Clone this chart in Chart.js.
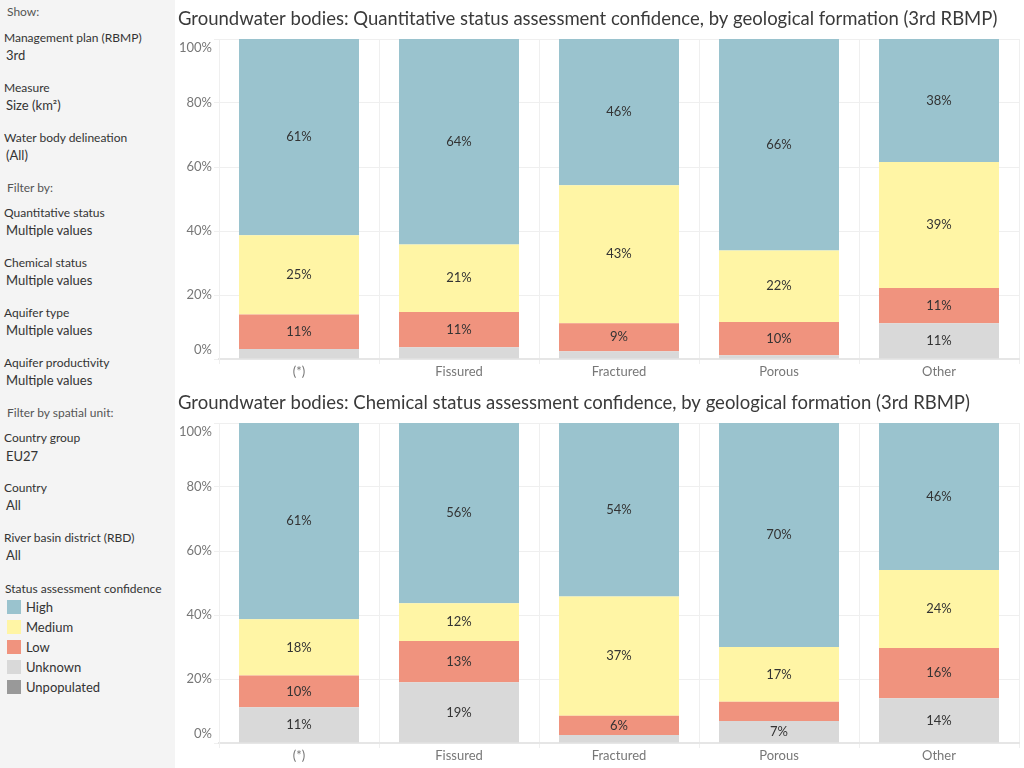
<!DOCTYPE html>
<html>
<head>
<meta charset="utf-8">
<script src="https://cdn.jsdelivr.net/npm/chart.js@4.4.1/dist/chart.umd.min.js"></script>
<style>
  body { margin: 0; width: 1024px; height: 768px; overflow: hidden; background: #fff; font-family: Lato, sans-serif; position: relative; }
  #sidebar { position: absolute; left: 0; top: 0; width: 175px; height: 768px; background: #f4f4f4; }
  .t { position: absolute; font-size: 12px; line-height: 16px; color: #333; white-space: nowrap; }
  .v { font-size: 13px; }
  .h { color: #555; }
  .sw { position: absolute; left: 7px; width: 14px; height: 14px; }
  canvas { position: absolute; left: 175px; }
</style>
</head>
<body>
<div id="sidebar">
  <div class="t h" style="left:7px;top:4px">Show:</div>
  <div class="t" style="left:4px;top:30px">Management plan (RBMP)</div>
  <div class="t v" style="left:6px;top:47px">3rd</div>
  <div class="t" style="left:4px;top:80px">Measure</div>
  <div class="t v" style="left:6px;top:97px">Size (km²)</div>
  <div class="t" style="left:4px;top:130px">Water body delineation</div>
  <div class="t v" style="left:6px;top:147px">(All)</div>
  <div class="t h" style="left:7px;top:180px">Filter by:</div>
  <div class="t" style="left:4px;top:205px">Quantitative status</div>
  <div class="t v" style="left:6px;top:222px">Multiple values</div>
  <div class="t" style="left:4px;top:255px">Chemical status</div>
  <div class="t v" style="left:6px;top:272px">Multiple values</div>
  <div class="t" style="left:4px;top:305px">Aquifer type</div>
  <div class="t v" style="left:6px;top:322px">Multiple values</div>
  <div class="t" style="left:4px;top:355px">Aquifer productivity</div>
  <div class="t v" style="left:6px;top:372px">Multiple values</div>
  <div class="t h" style="left:7px;top:405px">Filter by spatial unit:</div>
  <div class="t" style="left:4px;top:430px">Country group</div>
  <div class="t v" style="left:6px;top:448px">EU27</div>
  <div class="t" style="left:4px;top:480px">Country</div>
  <div class="t v" style="left:6px;top:497px">All</div>
  <div class="t" style="left:4px;top:530px">River basin district (RBD)</div>
  <div class="t v" style="left:6px;top:547px">All</div>
  <div class="t" style="left:5px;top:581px">Status assessment confidence</div>
  <div id="legend"></div>
</div>
<canvas id="quantChart" width="849" height="384" style="top:0"></canvas>
<canvas id="chemChart" width="849" height="384" style="top:384px"></canvas>
<script>
const categories = ['(*)', 'Fissured', 'Fractured', 'Porous', 'Other'];
const seriesNames = ['Unknown', 'Low', 'Medium', 'High'];
const seriesColors = ['#d9d9d9', '#f0937e', '#fff5a5', '#9ac3ce'];
const yTicks = [0, 20, 40, 60, 80, 100];

const legendNames = ['High', 'Medium', 'Low', 'Unknown', 'Unpopulated'];
const legendColors = ['#9ac3ce', '#fff5a5', '#f0937e', '#d9d9d9', '#999999'];

// Quantitative status (% of size km²)
const quantUnknown = [3.1, 3.7, 2.4, 1.2, 11.2];
const quantLow     = [10.8, 11.0, 8.8, 10.4, 11.0];
const quantMedium  = [24.8, 21.1, 43.1, 22.3, 39.4];
const quantHigh    = [61.3, 64.2, 45.7, 66.1, 38.4];
const quantHidden  = ['Unknown|(*)', 'Unknown|Fissured', 'Unknown|Fractured', 'Unknown|Porous'];

// Chemical status (% of size km²)
const chemUnknown = [11.2, 19.0, 2.5, 6.9, 14.0];
const chemLow     = [9.9, 12.9, 6.0, 6.0, 15.7];
const chemMedium  = [17.6, 11.8, 37.3, 17.1, 24.4];
const chemHigh    = [61.3, 56.3, 54.2, 70.0, 45.9];
const chemHidden  = ['Unknown|Fractured', 'Low|Porous'];

// legend in the sidebar
const legend = document.getElementById('legend');
legendNames.forEach((name, i) => {
  const top = 600 + i * 20;
  legend.innerHTML += `<div class="sw" style="top:${top}px;background:${legendColors[i]}"></div>` +
    `<div class="t v" style="left:26px;top:${top - 1}px">${name}</div>`;
});

// percent labels in the middle of each segment
const segmentLabels = {
  id: 'segmentLabels',
  afterDatasetsDraw(chart) {
    const ctx = chart.ctx;
    const hidden = chart.options.plugins.segmentLabels.hidden;
    ctx.save();
    ctx.font = '13px Lato';
    ctx.fillStyle = '#333';
    ctx.textAlign = 'center';
    ctx.textBaseline = 'middle';
    chart.data.datasets.forEach((ds, i) => {
      chart.getDatasetMeta(i).data.forEach((bar, j) => {
        if (hidden.includes(ds.label + '|' + chart.data.labels[j])) return;
        ctx.fillText(Math.round(ds.data[j]) + '%', bar.x, (bar.y + bar.base) / 2);
      });
    });
    ctx.restore();
  }
};

// y tick labels kept inside the plot like Tableau does
const yLabels = {
  id: 'yLabels',
  afterDraw(chart) {
    const y = chart.scales.y, area = chart.chartArea, ctx = chart.ctx;
    ctx.save();
    ctx.font = '13px Lato';
    ctx.fillStyle = '#777';
    ctx.textAlign = 'right';
    ctx.textBaseline = 'middle';
    y.ticks.forEach(t => {
      let py = y.getPixelForValue(t.value);
      py = Math.min(Math.max(py, area.top + 9), area.bottom - 9);
      ctx.fillText(t.value + '%', area.left - 7, py);
    });
    ctx.restore();
  }
};

function makeChart(id, title, unknown, low, medium, high, hidden) {
  const values = [unknown, low, medium, high];
  return new Chart(document.getElementById(id), {
    type: 'bar',
    data: {
      labels: categories,
      datasets: seriesNames.map((name, i) => ({
        label: name,
        data: values[i],
        backgroundColor: seriesColors[i],
        categoryPercentage: 0.75,
        barPercentage: 1
      }))
    },
    options: {
      responsive: false,
      animation: false,
      layout: { padding: { left: 3, right: 5, top: 0, bottom: 0 } },
      plugins: {
        legend: { display: false },
        tooltip: { enabled: false },
        title: {
          display: true,
          text: title,
          align: 'start',
          color: '#3a3a3a',
          font: { family: 'Lato', size: 18.5, weight: 'normal', lineHeight: 1.1 },
          padding: { top: 9, bottom: 9.65 }
        },
        segmentLabels: { hidden: hidden }
      },
      scales: {
        x: {
          stacked: true,
          grid: { offset: true, color: '#efefef', tickLength: 5 },
          border: { color: '#e6e6e6', width: 2 },
          ticks: { color: '#777', font: { family: 'Lato', size: 13 }, padding: 0 },
          afterFit: s => { s.height = 25; }
        },
        y: {
          stacked: true,
          min: 0,
          max: 100,
          afterBuildTicks: s => { s.ticks = yTicks.map(v => ({ value: v })); },
          grid: { color: '#efefef', tickLength: 5 },
          border: { color: '#efefef' },
          ticks: { display: false },
          afterFit: s => { s.width = 41; }
        }
      }
    },
    plugins: [segmentLabels, yLabels]
  });
}

makeChart('quantChart', 'Groundwater bodies: Quantitative status assessment confidence, by geological formation (3rd RBMP)',
  quantUnknown, quantLow, quantMedium, quantHigh, quantHidden);
makeChart('chemChart', 'Groundwater bodies: Chemical status assessment confidence, by geological formation (3rd RBMP)',
  chemUnknown, chemLow, chemMedium, chemHigh, chemHidden);
</script>
</body>
</html>
